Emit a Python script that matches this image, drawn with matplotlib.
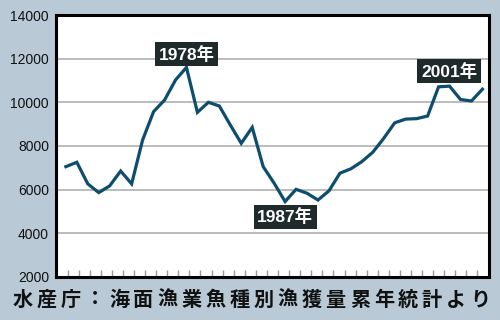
import numpy as np
import matplotlib
matplotlib.use('Agg')
import matplotlib.pyplot as plt

# catch per year
years = list(range(1967, 2006))
catch = [7050, 7250, 6260, 5860, 6170, 6850, 6260, 8270, 9570, 10100,
         11020, 11600, 9540, 10000, 9830, 8960, 8120, 8850, 7050, 6290,
         5450, 6010, 5830, 5520, 5940, 6750, 6950, 7280, 7710, 8350,
         9060, 9230, 9250, 9370, 10710, 10740, 10130, 10060, 10600]
y_ticks = [2000, 4000, 6000, 8000, 10000, 12000, 14000]

# callout labels: (text, x, y)
callouts = [('1978年', 1978, 12200), ('1987年', 1987, 4750), ('2001年', 2001.95, 11420)]
caption = '水産庁：海面漁業魚種別漁獲量累年統計より'

bg = '#b9cad6'
fig = plt.figure(figsize=(5, 3.2), dpi=100, facecolor=bg)
ax = fig.add_axes([0.112, 0.135, 0.866, 0.818])
ax.set_facecolor('white')

ax.plot(years, catch, color='#0d4d6e', lw=2.3, solid_joinstyle='miter', zorder=3)

ax.set_xlim(1966.1, 2005.6)
ax.set_ylim(2000, 14000)
ax.set_yticks(y_ticks)
ax.set_yticklabels([str(v) for v in y_ticks], family='Liberation Sans', fontsize=10, color='#111111')
ax.tick_params(axis='y', length=0, pad=5)
ax.set_xticks(np.linspace(1967.15, 2004.55, 38))
ax.set_xticklabels([])
ax.tick_params(axis='x', direction='in', length=5, width=1, color='#999999')
ax.grid(axis='y', color='#aaaaaa', lw=1.1)
ax.set_axisbelow(True)
for s in ax.spines.values():
    s.set_linewidth(2.2)
    s.set_color('black')
    s.set_zorder(4)

for txt, x, y in callouts:
    ax.text(x, y, txt, ha='center', va='center', color='white', fontsize=12.5,
            fontweight='bold', family=['Liberation Sans', 'Noto Sans CJK JP'],
            bbox=dict(boxstyle='square,pad=0.2', fc='#1f2a2a', ec='none'), zorder=5)

# caption with letter spacing
xs = np.linspace(23, 480, len(caption)) / 500
for ch, x in zip(caption, xs):
    fig.text(x, 1 - 299 / 320, ch, ha='center', va='center', fontsize=14.5,
             fontweight='bold', family='Noto Sans CJK JP', color='#111111')

fig.savefig('out.png', dpi=100, facecolor=bg)
